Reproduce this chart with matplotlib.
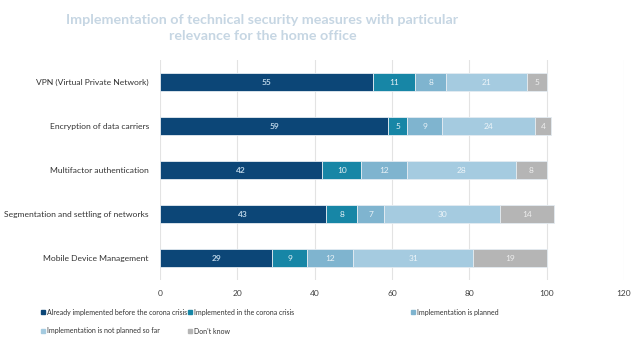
import matplotlib.pyplot as plt
from matplotlib.patches import Rectangle

plt.rcParams['font.family'] = ['Lato', 'DejaVu Sans']

measures = ["VPN (Virtual Private Network)", "Encryption of data carriers",
            "Multifactor authentication", "Segmentation and settling of networks",
            "Mobile Device Management"]
status = ["Already implemented before the corona crisis", "Implemented in the corona crisis",
          "Implementation is planned", "Implementation is not planned so far", "Don't know"]
before_crisis = [55, 59, 42, 43, 29]
in_crisis = [11, 5, 10, 8, 9]
planned = [8, 9, 12, 7, 12]
not_planned = [21, 24, 28, 30, 31]
dont_know = [5, 4, 8, 14, 19]
xticks = [0, 20, 40, 60, 80, 100, 120]

series = [before_crisis, in_crisis, planned, not_planned, dont_know]
colors = ["#0c4677", "#1786a6", "#7fb4cf", "#a5cbe0", "#b5b5b5"]
txt_colors = ["#b9d3e6", "#e6f1f6", "#e9f2f7", "#eef5f9", "#eeeeee"]

fig = plt.figure(figsize=(6.4, 3.39), dpi=100)
ax = fig.add_axes([0.25, 0.174, 0.725, 0.649])

ypos = list(range(len(measures)))
left = [0] * len(measures)
for vals, col, tc in zip(series, colors, txt_colors):
    bars = ax.barh(ypos, vals, left=left, height=0.4, color=col,
                   edgecolor="#e4ecf2", linewidth=0.6, zorder=3)
    ax.bar_label(bars, labels=[str(v) for v in vals], label_type="center",
                 color=tc, fontsize=6, fontweight="bold" if col == colors[0] else "normal")
    left = [l + v for l, v in zip(left, vals)]

ax.set_xlim(0, 120)
ax.set_ylim(4.5, -0.5)
ax.set_xticks(xticks)
ax.set_xticklabels([str(t) for t in xticks], fontsize=6, color="#404040")
ax.set_yticks(ypos)
ax.set_yticklabels(measures, fontsize=6.1, color="#333333")
ax.tick_params(length=0, pad=7)
ax.tick_params(axis="y", pad=8)
ax.grid(axis="x", color="#e3e3e3", linewidth=0.8, zorder=0)
for s in ax.spines.values():
    s.set_visible(False)

fig.text(0.41, 0.958, "Implementation of technical security measures with particular\nrelevance for the home office",
         ha="center", va="top", fontsize=10.3, fontweight="bold", color="#c6d6e3",
         linespacing=1.35)

# legend drawn by hand so the columns line up as in the layout
legend_pos = [(41, 312), (188, 312), (411, 312), (41, 331), (188, 331)]
for (px, py), name, col in zip(legend_pos, status, colors):
    fig.add_artist(Rectangle((px / 640, 1 - (py + 2) / 339), 4 / 640, 4 / 339,
                             transform=fig.transFigure, color=col))
    fig.text((px + 6) / 640, 1 - py / 339, name, fontsize=5.0, color="#333333", va="center")

fig.savefig("out.png", dpi=100)
